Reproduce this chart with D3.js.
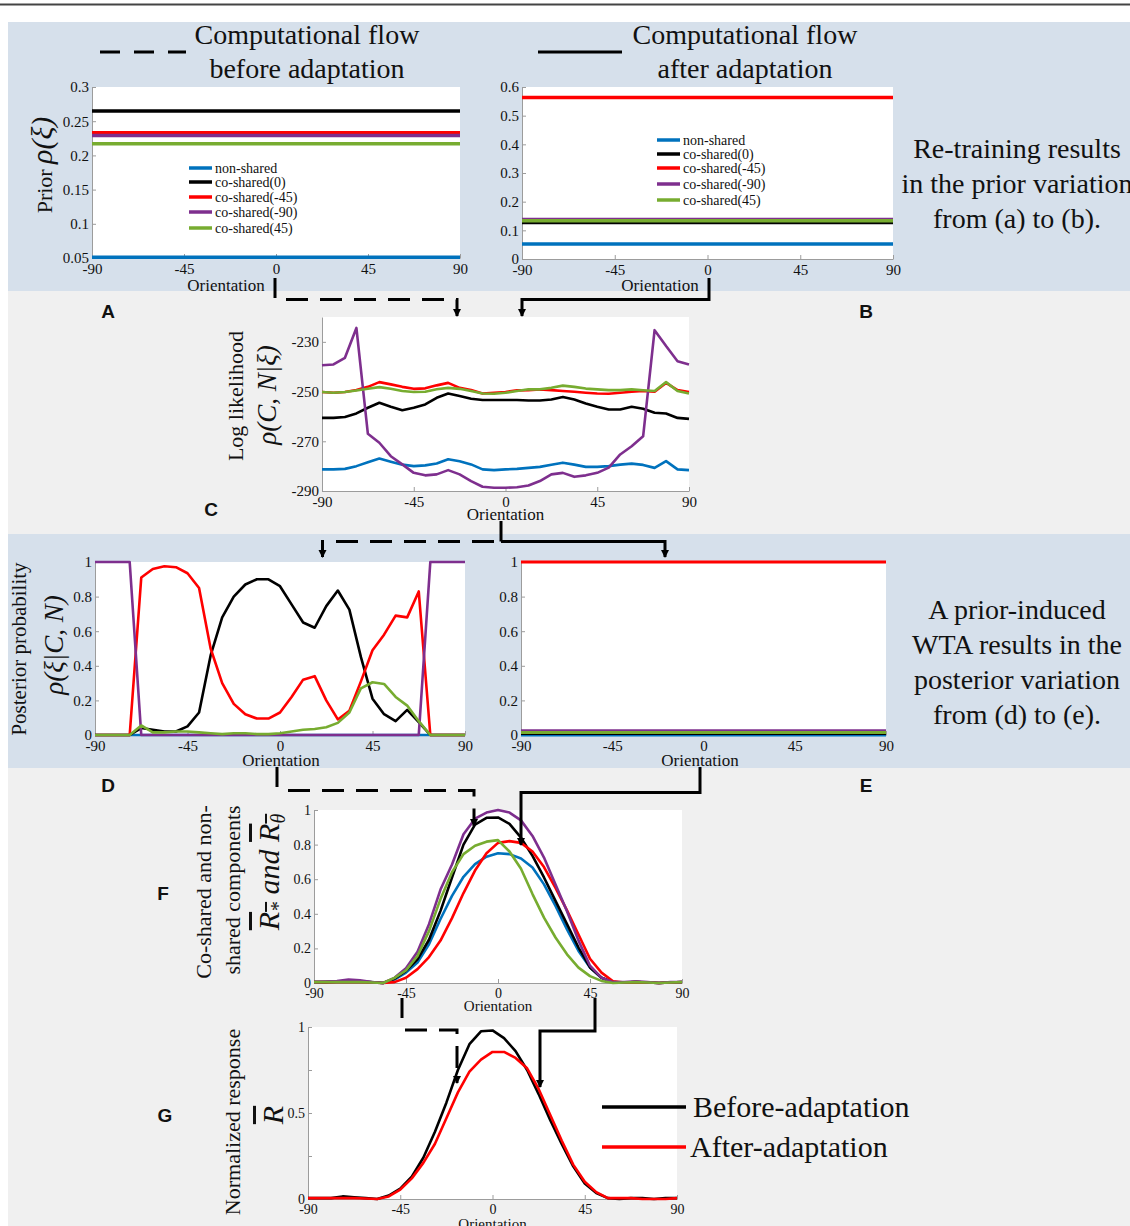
<!DOCTYPE html>
<html>
<head>
<meta charset="utf-8">
<script src="https://cdn.jsdelivr.net/npm/d3@7"></script>
<style>
body { margin: 0; background: #fff; }
svg text { font-family: "Liberation Serif", "Times New Roman", serif; fill: #111; }
.lab { font-family: "Liberation Sans", Arial, sans-serif !important; font-weight: bold; font-size: 19px; }
.axis path, .axis line { stroke: #9c9c9c; }
.axis text { font-size: 15px; }
</style>
</head>
<body>
<svg id="fig" width="1130" height="1226"></svg>
<script>
// sampled orientations (deg)
var orientations = [-90, -84.375, -78.75, -73.125, -67.5, -61.875, -56.25, -50.625, -45, -39.375, -33.75, -28.125,
	-22.5, -16.875, -11.25, -5.625, 0, 5.625, 11.25, 16.875, 22.5, 28.125, 33.75, 39.375, 45, 50.625, 56.25,
	61.875, 67.5, 73.125, 78.75, 84.375, 90];

var seriesNames = ["non-shared", "co-shared(0)", "co-shared(-45)", "co-shared(-90)", "co-shared(45)"];
var seriesColors = ["#0072bd", "#000000", "#ff0000", "#7e2f8e", "#77ac30"];

// A, B: prior per component
var priorBefore = [0.051, 0.265, 0.233, 0.229, 0.217];
var priorAfter = [0.052, 0.127, 0.563, 0.138, 0.133];

// C: log likelihood
var likeBlue = [-281.3, -281.3, -281.1, -280, -278.4, -276.9, -278.2, -279.4, -280, -279.7, -278.9, -277.2, -278,
	-279.3, -281.3, -281.6, -281.3, -281.1, -280.7, -280.3, -279.4, -278.6, -279.4, -280.3, -280.3, -280, -279.4,
	-279, -279.5, -280.7, -278, -281.3, -281.6];
var likeBlack = [-260.6, -260.6, -260.2, -258.8, -256.5, -254.5, -256.1, -257.5, -256.5, -255.2, -252.5, -250.8,
	-251.8, -252.9, -253.4, -253.4, -253.4, -253.4, -253.6, -253.6, -253.2, -252.2, -253.2, -254.8, -256.1, -257.2,
	-257.2, -256.1, -256.9, -258.5, -258.8, -260.6, -261];
var likeRed = [-250.2, -250.5, -250.2, -249.4, -248.1, -246.2, -247.1, -248.1, -248.9, -248.7, -247.5, -246.5, -248.5,
	-249.4, -250.8, -250.5, -250.2, -249.5, -249.4, -249.1, -249.4, -249.8, -250.1, -250.5, -250.8, -250.9, -250.5,
	-250.1, -249.8, -250.1, -246.5, -249.4, -250.2];
var likePurple = [-239.4, -239.1, -236.4, -224.4, -267, -270.6, -276, -279.3, -282.7, -283.7, -283.3, -281.6, -283.3,
	-286, -288.3, -288.7, -288.7, -288.5, -287.8, -286, -283.3, -282.7, -284.3, -283.7, -282.7, -280.6, -275.3,
	-272, -268, -225.3, -231.7, -237.8, -239.1];
var likeGreen = [-250.2, -250.5, -250.2, -249.6, -248.9, -248.2, -248.9, -249.8, -250.2, -250.1, -249.1, -248.5,
	-248.9, -249.8, -250.8, -250.9, -250.5, -249.8, -249.1, -249.1, -248.5, -247.6, -248.1, -248.8, -249.1, -249.4,
	-249.4, -249.1, -249.5, -249.8, -246.2, -249.8, -250.8];

// D: posterior before adaptation
var postBlue = [0, 0, 0, 0, 0, 0, 0, 0, 0, 0, 0, 0, 0, 0, 0, 0, 0, 0, 0, 0, 0, 0, 0, 0, 0, 0, 0, 0, 0, 0, 0, 0, 0];
var postBlack = [0, 0, 0, 0, 0.04, 0.03, 0.02, 0.02, 0.05, 0.13, 0.46, 0.68, 0.8, 0.87, 0.9, 0.9, 0.86, 0.755,
	0.65, 0.62, 0.745, 0.835, 0.725, 0.45, 0.21, 0.12, 0.08, 0.145, 0.075, 0, 0, 0, 0];
var postRed = [0, 0, 0, 0, 0.91, 0.96, 0.975, 0.97, 0.935, 0.85, 0.5, 0.3, 0.18, 0.12, 0.095, 0.095, 0.13, 0.22,
	0.32, 0.34, 0.2, 0.09, 0.14, 0.31, 0.49, 0.58, 0.69, 0.68, 0.83, 0, 0, 0, 0];
var postPurple = [1, 1, 1, 1, 0, 0, 0, 0, 0, 0, 0, 0, 0, 0, 0, 0, 0, 0, 0, 0, 0, 0, 0, 0, 0, 0, 0, 0, 0, 1, 1, 1, 1];
var postGreen = [0, 0, 0, 0, 0.055, 0.015, 0.015, 0.02, 0.02, 0.015, 0.01, 0.005, 0.01, 0.01, 0.005, 0.005, 0.01,
	0.02, 0.03, 0.035, 0.045, 0.07, 0.13, 0.27, 0.305, 0.295, 0.22, 0.17, 0.08, 0, 0, 0, 0];

// E: posterior after adaptation
var postAfter = [0, 0.008, 1, 0.025, 0.015];

// F: co-shared and non-shared components
var compBlue = [0.005, 0.005, 0.005, 0.005, 0.005, 0.003, 0, 0.02, 0.06, 0.118, 0.224, 0.37, 0.504, 0.614, 0.687,
	0.73, 0.75, 0.745, 0.72, 0.668, 0.57, 0.446, 0.31, 0.185, 0.09, 0.03, 0.003, 0.003, 0.005, 0.003, 0, 0.003, 0.005];
var compBlack = [0.005, 0.005, 0.008, 0.012, 0.01, 0.005, 0, 0.025, 0.07, 0.137, 0.25, 0.417, 0.61, 0.8, 0.915,
	0.955, 0.957, 0.92, 0.84, 0.735, 0.61, 0.475, 0.34, 0.205, 0.09, 0.03, 0.005, 0.003, 0.005, 0.003, 0, 0.003, 0.005];
var compRed = [0.005, 0.005, 0.005, 0.005, 0.005, 0.003, 0, 0.005, 0.03, 0.08, 0.15, 0.245, 0.375, 0.52, 0.65,
	0.75, 0.81, 0.82, 0.81, 0.76, 0.67, 0.55, 0.42, 0.28, 0.14, 0.06, 0.01, 0.003, 0.005, 0.003, 0, 0.003, 0.005];
var compPurple = [0.005, 0.008, 0.012, 0.02, 0.015, 0.005, 0, 0.03, 0.085, 0.18, 0.34, 0.54, 0.685, 0.86, 0.95,
	0.985, 1.0, 0.985, 0.94, 0.85, 0.725, 0.57, 0.415, 0.245, 0.1, 0.03, 0.005, 0.005, 0.01, 0.005, 0, 0.005, 0.005];
var compGreen = [0.005, 0.005, 0.005, 0.005, 0.005, 0.003, 0, 0.03, 0.073, 0.156, 0.3, 0.485, 0.64, 0.745, 0.793,
	0.817, 0.826, 0.76, 0.66, 0.514, 0.378, 0.263, 0.166, 0.089, 0.04, 0.012, 0, 0.003, 0.005, 0.003, 0, 0.003, 0.005];

// G: normalized response
var respBefore = [0.005, 0.005, 0.005, 0.015, 0.01, 0.005, 0, 0.02, 0.06, 0.13, 0.24, 0.39, 0.56, 0.75, 0.9, 0.975,
	0.98, 0.935, 0.86, 0.75, 0.61, 0.46, 0.32, 0.19, 0.09, 0.035, 0.005, 0, 0.005, 0.005, 0, 0.005, 0.005];
var respAfter = [0.005, 0.005, 0.005, 0.005, 0.005, 0.003, 0, 0.015, 0.055, 0.12, 0.21, 0.32, 0.47, 0.62, 0.74,
	0.81, 0.855, 0.855, 0.82, 0.76, 0.64, 0.49, 0.34, 0.2, 0.1, 0.04, 0.005, 0.005, 0.005, 0, 0, 0, 0.005];
var respNames = ["Before-adaptation", "After-adaptation"];
var respColors = ["#000000", "#ff0000"];

var xTicks = [-90, -45, 0, 45, 90];

var svg = d3.select('#fig');

// backgrounds
svg.append('line').attr('x1', 0).attr('x2', 1130).attr('y1', 4.5).attr('y2', 4.5)
	.attr('stroke', '#444').attr('stroke-width', 2);
svg.append('rect').attr('x', 8).attr('y', 22).attr('width', 1122).attr('height', 269).attr('fill', '#d6e0eb');
svg.append('rect').attr('x', 8).attr('y', 291).attr('width', 1122).attr('height', 243).attr('fill', '#f0f0f0');
svg.append('rect').attr('x', 8).attr('y', 534).attr('width', 1122).attr('height', 234).attr('fill', '#d6e0eb');
svg.append('rect').attr('x', 8).attr('y', 768).attr('width', 1122).attr('height', 458).attr('fill', '#f0f0f0');

svg.append('defs').append('marker')
	.attr('id', 'arr').attr('markerUnits', 'userSpaceOnUse')
	.attr('markerWidth', 9).attr('markerHeight', 9).attr('refX', 7).attr('refY', 4)
	.attr('orient', 'auto')
	.append('path').attr('d', 'M0,0L8,4L0,8z').attr('fill', '#000');

function drawPanel(p) {
	var g = svg.append('g');
	var x = d3.scaleLinear().domain([-90, 90]).range([p.left, p.right]);
	var y = d3.scaleLinear().domain(p.yDomain).range([p.bottom, p.top]);

	g.append('rect')
		.attr('x', p.left).attr('y', p.top)
		.attr('width', p.right - p.left).attr('height', p.bottom - p.top)
		.attr('fill', '#fff');

	g.append('g').attr('class', 'axis')
		.attr('transform', 'translate(0,' + p.bottom + ')')
		.call(d3.axisBottom(x).tickValues(xTicks).tickSizeInner(-4).tickSizeOuter(0).tickPadding(5)
			.tickFormat(function(d) {return String(d);}));

	g.append('g').attr('class', 'axis')
		.attr('transform', 'translate(' + p.left + ',0)')
		.call(d3.axisLeft(y).tickValues(p.yTicks).tickSizeInner(-4).tickSizeOuter(0).tickPadding(3)
			.tickFormat(p.yFormat || function(d) {return String(d);}));

	g.selectAll('.axis text').style('font-size', (p.tickFont || 15) + 'px');

	g.append('text')
		.attr('x', p.xLabelX || (p.left + p.right) / 2).attr('y', p.xLabelY)
		.attr('text-anchor', 'middle')
		.style('font-size', (p.xLabelFont || 17) + 'px')
		.text('Orientation');

	return {x: x, y: y, g: g};
}

function drawCurves(ax, list, colors, width) {
	var line = d3.line()
		.x(function(d, i) {return ax.x(orientations[i]);})
		.y(function(d) {return ax.y(d);});
	ax.g.append('g').selectAll('path')
		.data(list)
		.enter().append('path')
		.attr('d', function(d) {return line(d);})
		.attr('fill', 'none')
		.attr('stroke', function(d, i) {return colors[i];})
		.attr('stroke-width', width)
		.attr('stroke-linejoin', 'round');
}

function drawFlat(ax, values, width) {
	ax.g.append('g').selectAll('line')
		.data(values)
		.enter().append('line')
		.attr('x1', ax.x(-90)).attr('x2', ax.x(90))
		.attr('y1', function(d) {return ax.y(d);})
		.attr('y2', function(d) {return ax.y(d);})
		.attr('stroke', function(d, i) {return seriesColors[i];})
		.attr('stroke-width', width);
}

function drawLegend(g, lx, rows) {
	var leg = g.append('g');
	leg.selectAll('line').data(seriesNames).enter().append('line')
		.attr('x1', lx).attr('x2', lx + 23)
		.attr('y1', function(d, i) {return rows[i];})
		.attr('y2', function(d, i) {return rows[i];})
		.attr('stroke', function(d, i) {return seriesColors[i];})
		.attr('stroke-width', 3.5);
	leg.selectAll('text').data(seriesNames).enter().append('text')
		.attr('x', lx + 26)
		.attr('y', function(d, i) {return rows[i] + 4.5;})
		.style('font-size', '14px')
		.text(function(d) {return d;});
}

// ---- A
var axA = drawPanel({left: 92, right: 460, top: 87, bottom: 258, yDomain: [0.05, 0.3],
	yTicks: [0.05, 0.1, 0.15, 0.2, 0.25, 0.3], xLabelY: 291, xLabelX: 226});
drawFlat(axA, priorBefore, 3.5);
drawLegend(axA.g, 189, [168, 182, 197, 212, 228]);

// ---- B
var axB = drawPanel({left: 522, right: 893, top: 87, bottom: 259, yDomain: [0, 0.6],
	yTicks: [0, 0.1, 0.2, 0.3, 0.4, 0.5, 0.6], xLabelY: 291, xLabelX: 660});
drawFlat(axB, priorAfter, 3.5);
drawLegend(axB.g, 657, [140, 154, 168, 184, 200]);

// ---- C
var axC = drawPanel({left: 322, right: 689, top: 317, bottom: 491, yDomain: [-290, -220],
	yTicks: [-290, -270, -250, -230], xLabelY: 520});
drawCurves(axC, [likeBlue, likeBlack, likeRed, likePurple, likeGreen], seriesColors, 2.6);

// ---- D
var axD = drawPanel({left: 95, right: 465, top: 562, bottom: 735, yDomain: [0, 1],
	yTicks: [0, 0.2, 0.4, 0.6, 0.8, 1], xLabelY: 766, xLabelX: 281});
drawCurves(axD, [postBlue, postBlack, postRed, postPurple, postGreen], seriesColors, 2.6);

// ---- E
var axE = drawPanel({left: 521, right: 886, top: 562, bottom: 735, yDomain: [0, 1],
	yTicks: [0, 0.2, 0.4, 0.6, 0.8, 1], xLabelY: 766, xLabelX: 700});
drawFlat(axE, postAfter, 3);

// ---- F
var axF = drawPanel({left: 314, right: 682, top: 810, bottom: 983, yDomain: [0, 1],
	yTicks: [0, 0.2, 0.4, 0.6, 0.8, 1], xLabelY: 1011, xLabelFont: 15, tickFont: 14});
drawCurves(axF, [compBlue, compBlack, compRed, compPurple, compGreen], seriesColors, 2.6);

// ---- G
var axG = drawPanel({left: 308, right: 677, top: 1027, bottom: 1199, yDomain: [0, 1],
	yTicks: [0, 0.25, 0.5, 0.75, 1], xLabelY: 1229, xLabelFont: 15, tickFont: 14,
	yFormat: function(d) {return (d === 0.25 || d === 0.75) ? '' : String(d);}});
drawCurves(axG, [respBefore, respAfter], respColors, 2.6);

// G legend
var legG = svg.append('g');
legG.selectAll('line').data(respNames).enter().append('line')
	.attr('x1', 602).attr('x2', 686)
	.attr('y1', function(d, i) {return 1107 + i * 40;})
	.attr('y2', function(d, i) {return 1107 + i * 40;})
	.attr('stroke', function(d, i) {return respColors[i];})
	.attr('stroke-width', 3.5);
legG.selectAll('text').data(respNames).enter().append('text')
	.attr('x', function(d, i) {return i ? 690 : 693;})
	.attr('y', function(d, i) {return 1117 + i * 40;})
	.style('font-size', '30px')
	.text(function(d) {return d;});

// ---- titles and notes
function centered(x, y, size, lines, gap) {
	svg.append('g').selectAll('text').data(lines).enter().append('text')
		.attr('x', x).attr('y', function(d, i) {return y + i * gap;})
		.attr('text-anchor', 'middle')
		.style('font-size', size + 'px')
		.text(function(d) {return d;});
}
centered(307, 44, 28, ['Computational flow', 'before adaptation'], 34);
centered(745, 44, 28, ['Computational flow', 'after adaptation'], 34);
centered(1017, 158, 28, ['Re-training results', 'in the prior variation', 'from (a) to (b).'], 35);
centered(1017, 619, 28, ['A prior-induced', 'WTA results in the', 'posterior variation', 'from (d) to (e).'], 35);

svg.append('path').attr('d', 'M100,52H186').attr('stroke', '#000').attr('stroke-width', 3)
	.attr('stroke-dasharray', '20,14');
svg.append('path').attr('d', 'M538,52H622').attr('stroke', '#000').attr('stroke-width', 3);

// ---- panel letters
var letters = [['A', 108, 318], ['B', 866, 318], ['C', 211, 516], ['D', 108, 792], ['E', 866, 792],
	['F', 163, 900], ['G', 165, 1122]];
svg.append('g').selectAll('text').data(letters).enter().append('text')
	.attr('class', 'lab')
	.attr('x', function(d) {return d[1];}).attr('y', function(d) {return d[2];})
	.attr('text-anchor', 'middle')
	.text(function(d) {return d[0];});

// ---- rotated axis titles
function vlabel(x, y, size, italic) {
	return svg.append('text')
		.attr('transform', 'translate(' + x + ',' + y + ') rotate(-90)')
		.attr('text-anchor', 'middle')
		.style('font-size', size + 'px')
		.style('font-style', italic ? 'italic' : 'normal');
}
var tA = vlabel(52, 165, 22, false);
tA.append('tspan').text('Prior ');
tA.append('tspan').style('font-size', '30px').style('font-style', 'italic').text('\u03c1(\u03be)');

vlabel(243, 396, 22, false).text('Log likelihood');
vlabel(276, 395, 27, true).text('\u03c1(C, N|\u03be)');
vlabel(26, 649, 21, false).text('Posterior probability');
vlabel(63, 645, 27, true).text('\u03c1(\u03be|C, N)');

vlabel(211, 892, 22, false).text('Co-shared and non-');
vlabel(240, 890, 22, false).text('shared components');
var tF = vlabel(279, 872, 30, true);
tF.append('tspan').style('text-decoration', 'overline').text('R');
tF.append('tspan').style('text-decoration', 'overline').style('font-size', '20px').attr('dy', 6).text('*');
tF.append('tspan').attr('dy', -6).text('  and  ');
tF.append('tspan').style('text-decoration', 'overline').text('R');
tF.append('tspan').style('text-decoration', 'overline').style('font-size', '20px').attr('dy', 6).text('\u03b8');

vlabel(240, 1122, 22, false).text('Normalized response');
vlabel(283, 1115, 30, true).style('text-decoration', 'overline').text('R');

// ---- flow connectors
var flows = [
	{d: 'M275,278V298'},
	{d: 'M286,299.5H457V316', dash: true, arrow: true},
	{d: 'M709,278V299.5H522V316', arrow: true},
	{d: 'M501,521V541.5'},
	{d: 'M494,541.5H322.5V557', dash: true, arrow: true},
	{d: 'M501,541.5H665V557', arrow: true},
	{d: 'M277,767V787'},
	{d: 'M288,790.5H474V826', dash: true, arrow: true},
	{d: 'M700,767V792.5H521V845', arrow: true},
	{d: 'M402,998V1018'},
	{d: 'M405,1030H457V1083', dash: true, arrow: true},
	{d: 'M595,998V1031H540V1087', arrow: true}
];
svg.append('g').selectAll('path').data(flows).enter().append('path')
	.attr('d', function(d) {return d.d;})
	.attr('fill', 'none')
	.attr('stroke', '#000')
	.attr('stroke-width', 3)
	.attr('stroke-dasharray', function(d) {return d.dash ? '22,12' : null;})
	.attr('marker-end', function(d) {return d.arrow ? 'url(#arr)' : null;});
</script>
</body>
</html>
